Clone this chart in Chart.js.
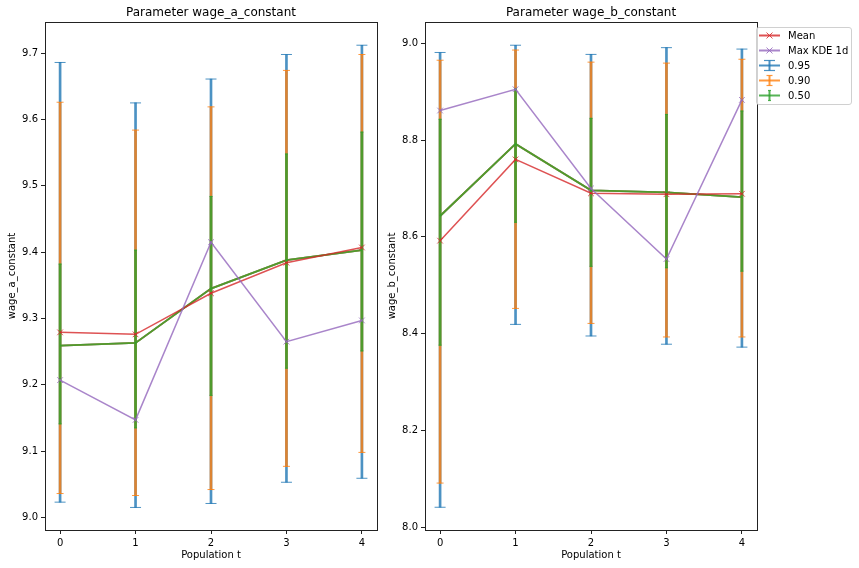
<!DOCTYPE html>
<html>
<head>
<meta charset="utf-8">
<script src="https://cdn.jsdelivr.net/npm/chart.js@4.4.1/dist/chart.umd.min.js"></script>
<style>
  body { margin: 0; background: #fff; font-family: "DejaVu Sans", sans-serif; }
  #wrap { position: relative; width: 859px; height: 568px; overflow: hidden; }
  .panel { position: absolute; top: 0; width: 400px; height: 568px; }
  #legend {
    position: absolute; left: 756px; top: 27px; width: 96px; height: 78px;
    box-sizing: border-box; border: 1px solid #d0d0d0; border-radius: 3px;
    background: rgba(255, 255, 255, 0.8); font-size: 10px; color: #000;
  }
  .row { height: 15px; display: flex; align-items: center; white-space: nowrap; }
  .row svg { margin-left: 2px; width: 22px; height: 15px; flex: none; }
  .row span { margin-left: 7px; }
</style>
</head>
<body>
<div id="wrap">
  <div class="panel" style="left:0"><canvas id="chartA" width="400" height="568"></canvas></div>
  <div class="panel" style="left:380px"><canvas id="chartB" width="400" height="568"></canvas></div>
  <div id="legend"></div>
</div>
<script>
const populations = [0, 1, 2, 3, 4];
const legendLabels = ["Mean", "Max KDE 1d", "0.95", "0.90", "0.50"];

// wage_a_constant
const aMean = [9.279, 9.276, 9.338, 9.384, 9.407];
const aKde = [9.207, 9.147, 9.415, 9.265, 9.297];
const aMedian = [9.259, 9.263, 9.345, 9.388, 9.403];
const a95Lo = [9.023, 9.015, 9.021, 9.053, 9.059];
const a95Hi = [9.686, 9.625, 9.661, 9.698, 9.712];
const a90Lo = [9.036, 9.033, 9.042, 9.077, 9.098];
const a90Hi = [9.626, 9.584, 9.619, 9.674, 9.698];
const a50Lo = [9.141, 9.135, 9.184, 9.225, 9.251];
const a50Hi = [9.382, 9.403, 9.484, 9.548, 9.581];
const aTicks = [9.0, 9.1, 9.2, 9.3, 9.4, 9.5, 9.6, 9.7];

// wage_b_constant
const bMean = [8.592, 8.760, 8.690, 8.688, 8.689];
const bKde = [8.861, 8.905, 8.700, 8.554, 8.883];
const bMedian = [8.643, 8.792, 8.696, 8.692, 8.682];
const b95Lo = [8.041, 8.419, 8.395, 8.378, 8.372];
const b95Hi = [8.981, 8.996, 8.977, 8.991, 8.988];
const b90Lo = [8.091, 8.452, 8.421, 8.393, 8.393];
const b90Hi = [8.965, 8.986, 8.961, 8.959, 8.967];
const b50Lo = [8.376, 8.630, 8.539, 8.536, 8.529];
const b50Hi = [8.843, 8.906, 8.845, 8.853, 8.860];
const bTicks = [8.0, 8.2, 8.4, 8.6, 8.8, 9.0];

const RED = "rgba(214,39,40,0.8)";
const PURPLE = "rgba(148,103,189,0.8)";
const BLUE = "rgba(31,119,180,0.8)";
const ORANGE = "rgba(255,127,14,0.8)";
const GREEN = "rgba(44,160,44,0.8)";

Chart.defaults.font.family = "'DejaVu Sans', sans-serif";
Chart.defaults.font.size = 10;
Chart.defaults.color = "#000";

function pts(ys) {
  return populations.map((x, i) => ({ x: x, y: ys[i] }));
}

// one confidence band: vertical bar, caps, and the centre line
function ciDatasets(lo, hi, mid, color, capRadius, order) {
  return [
    {
      type: "bar",
      data: populations.map((x, i) => ({ x: x, y: [lo[i], hi[i]] })),
      backgroundColor: color,
      borderWidth: 0,
      barThickness: 2,
      maxBarThickness: 2,
      grouped: false,
      order: order + 2
    },
    {
      type: "line",
      data: pts(lo).concat(pts(hi)),
      showLine: false,
      pointStyle: "line",
      pointRadius: capRadius,
      pointBorderWidth: 1,
      pointBorderColor: color,
      pointBackgroundColor: color,
      order: order + 1
    },
    {
      type: "line",
      data: pts(mid),
      borderColor: color,
      borderWidth: 1.8,
      pointRadius: 0,
      order: order
    }
  ];
}

function markerLine(ys, color, order) {
  return {
    type: "line",
    data: pts(ys),
    borderColor: color,
    borderWidth: 1.5,
    pointStyle: "crossRot",
    pointRadius: 4,
    pointBorderWidth: 1,
    pointBorderColor: color,
    order: order
  };
}

const framePlugin = {
  id: "frame",
  afterDatasetsDraw(chart) {
    const a = chart.chartArea;
    const ctx = chart.ctx;
    const l = Math.floor(a.left), t = Math.floor(a.top);
    const r = Math.floor(a.right), b = Math.floor(a.bottom);
    ctx.save();
    ctx.strokeStyle = "#222";
    ctx.lineWidth = 1;
    ctx.strokeRect(l + 0.5, t + 0.5, r - l, b - t);
    ctx.restore();
  }
};

function makeChart(id, s, yMin, yMax, yTicks, title, yTitle, yTitlePad) {
  const datasets = [
    markerLine(s.kde, PURPLE, 0),
    markerLine(s.mean, RED, 1),
    ...ciDatasets(s.lo50, s.hi50, s.mid, GREEN, 1.5, 2),
    ...ciDatasets(s.lo90, s.hi90, s.mid, ORANGE, 3.5, 5),
    ...ciDatasets(s.lo95, s.hi95, s.mid, BLUE, 5.5, 8)
  ];
  return new Chart(document.getElementById(id), {
    type: "line",
    data: { datasets: datasets },
    plugins: [framePlugin],
    options: {
      responsive: false,
      animation: false,
      events: [],
      layout: { padding: { left: 0, right: 23, top: 0, bottom: 0 } },
      plugins: {
        legend: { display: false },
        tooltip: { enabled: false },
        title: {
          display: true,
          text: title,
          fullSize: false,
          font: { size: 12, weight: "normal" },
          color: "#000",
          padding: { top: 5.2, bottom: 2.4 }
        }
      },
      scales: {
        x: {
          type: "linear",
          min: -0.2,
          max: 4.2,
          offset: false,
          afterBuildTicks: (sc) => { sc.ticks = populations.map(v => ({ value: v })); },
          afterFit: (sc) => { sc.height = 38; },
          ticks: { padding: 3, maxRotation: 0, callback: (v) => String(v) },
          grid: { offset: false, drawOnChartArea: false, drawTicks: true, tickLength: 4, color: "#222" },
          border: { display: false },
          title: { display: true, text: "Population t", padding: { top: 0, bottom: 7 } }
        },
        y: {
          type: "linear",
          min: yMin,
          max: yMax,
          afterBuildTicks: (sc) => { sc.ticks = yTicks.map(v => ({ value: v })); },
          afterFit: (sc) => { sc.width = 45; },
          ticks: { padding: 3, callback: (v) => v.toFixed(1) },
          grid: { offset: false, drawOnChartArea: false, drawTicks: true, tickLength: 4, color: "#222" },
          border: { display: false },
          title: { display: true, text: yTitle, padding: { top: yTitlePad, bottom: 0 } }
        }
      }
    }
  });
}

makeChart("chartA", {
  mean: aMean, kde: aKde, mid: aMedian,
  lo95: a95Lo, hi95: a95Hi, lo90: a90Lo, hi90: a90Hi, lo50: a50Lo, hi50: a50Hi
}, 8.981, 9.747, aTicks, "Parameter wage_a_constant", "wage_a_constant", 6);

makeChart("chartB", {
  mean: bMean, kde: bKde, mid: bMedian,
  lo95: b95Lo, hi95: b95Hi, lo90: b90Lo, hi90: b90Hi, lo50: b50Lo, hi50: b50Hi
}, 7.994, 9.044, bTicks, "Parameter wage_b_constant", "wage_b_constant", 6.5);

// legend: line + marker for the estimates, errorbar glyph for the bands
const legendColors = [RED, PURPLE, BLUE, ORANGE, GREEN];
const capHalf = [0, 0, 5.5, 3, 1.5];
const legendDiv = document.getElementById("legend");
legendLabels.forEach((label, i) => {
  const c = legendColors[i];
  let glyph;
  if (i < 2) {
    glyph = `<path d="M7.5 4.5 L13.5 10.5 M13.5 4.5 L7.5 10.5" stroke="${c}" stroke-width="1"/>`;
  } else {
    const h = capHalf[i];
    glyph = `<line x1="10.5" y1="2.5" x2="10.5" y2="12.5" stroke="${c}" stroke-width="2"/>
      <line x1="${10.5 - h}" y1="2.5" x2="${10.5 + h}" y2="2.5" stroke="${c}" stroke-width="1.2"/>
      <line x1="${10.5 - h}" y1="12.5" x2="${10.5 + h}" y2="12.5" stroke="${c}" stroke-width="1.2"/>`;
  }
  const row = document.createElement("div");
  row.className = "row";
  row.innerHTML = `<svg viewBox="0 0 22 15"><line x1="0" y1="7.5" x2="21" y2="7.5" stroke="${c}" stroke-width="2"/>${glyph}</svg><span>${label}</span>`;
  legendDiv.appendChild(row);
});
</script>
</body>
</html>
